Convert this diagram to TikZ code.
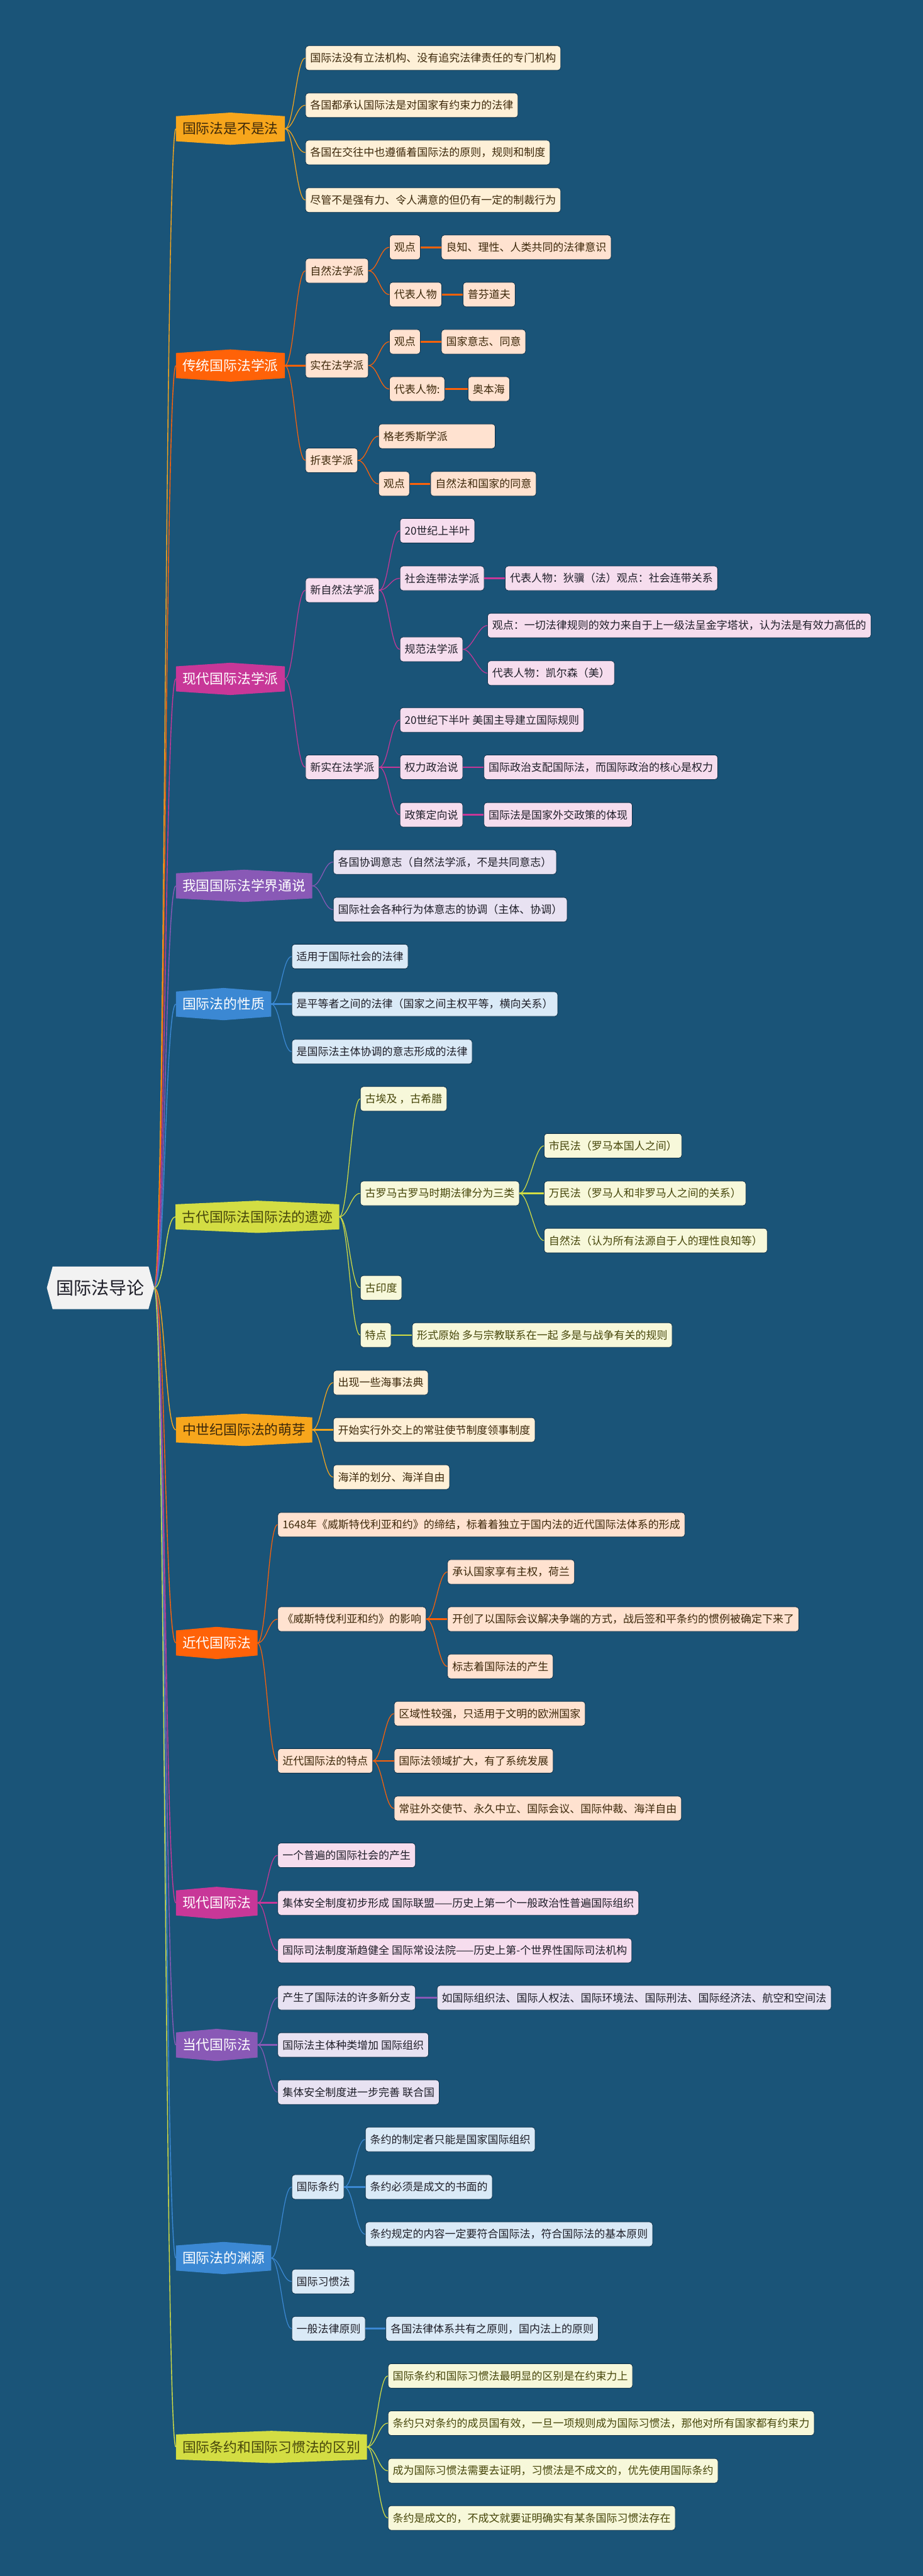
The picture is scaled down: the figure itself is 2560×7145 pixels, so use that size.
\documentclass[tikz,border=0pt]{standalone}
\usepackage{fontspec}
\setmainfont{Noto Sans CJK SC}
\usetikzlibrary{calc}
\definecolor{bgc}{RGB}{26,84,120}
\definecolor{cOr}{RGB}{247,166,28}
\definecolor{cRd}{RGB}{255,98,8}
\definecolor{cMg}{RGB}{200,55,152}
\definecolor{cPu}{RGB}{137,89,182}
\definecolor{cBl}{RGB}{59,136,211}
\definecolor{cYg}{RGB}{211,221,67}
\definecolor{fOr}{RGB}{254,240,215}
\definecolor{fRd}{RGB}{255,226,208}
\definecolor{fMg}{RGB}{246,221,238}
\definecolor{fPu}{RGB}{232,226,242}
\definecolor{fBl}{RGB}{218,234,247}
\definecolor{fYg}{RGB}{247,248,218}
\definecolor{tBr}{RGB}{60,40,10}
\definecolor{tDk}{RGB}{30,30,40}
\definecolor{tOl}{RGB}{70,70,10}
\definecolor{rootF}{RGB}{242,242,242}
\definecolor{edge}{RGB}{15,50,75}
\pgfdeclarelayer{bg}\pgfdeclarelayer{shp}\pgfsetlayers{bg,shp,main}
\tikzset{
 lfbase/.style={anchor=west, rounded corners=0.08cm, minimum height=0.68cm, inner xsep=0.13cm, inner ysep=0pt, font=\fontsize{8.43pt}{10pt}\selectfont, draw=edge, line width=0.4pt},
 lfO/.style={lfbase, fill=fOr, text=tBr},
 lfR/.style={lfbase, fill=fRd, text=tBr},
 lfM/.style={lfbase, fill=fMg, text=tDk},
 lfP/.style={lfbase, fill=fPu, text=tDk},
 lfB/.style={lfbase, fill=fBl, text=tDk},
 lfY/.style={lfbase, fill=fYg, text=tOl},
 mbs/.style={anchor=west, minimum height=0.68cm, inner xsep=0.175cm, inner ysep=0pt, font=\fontsize{10.8pt}{12pt}\selectfont},
}
\newcommand{\mbr}[6]{%
 \node[mbs, text=#5] (#1) at (#2,#3) {#6};
 \begin{pgfonlayer}{shp}
 \fill[#4] (#1.north west) -- ($(#1.north)+(0,-10)$) -- (#1.north east) -- (#1.south east) -- ($(#1.south)+(0,10)$) -- (#1.south west) -- cycle;
 \end{pgfonlayer}}
\newcommand{\cnC}[3]{\draw[#1, line width=0.6pt] (#2.east) .. controls +(25,0) and +(-25,0) .. (#3.west);}
\newcommand{\cnS}[3]{\draw[#1, line width=1.3pt] (#2.east) -- (#3.west);}
\newcommand{\cnR}[2]{\draw[#1, line width=0.7pt] (rootR) .. controls +(30,0) and +(-30,0) .. (#2.west);}
\begin{document}
\begin{tikzpicture}[x=0.01cm, y=-0.01cm]
\useasboundingbox (0,0) rectangle (2560,7145);
\begin{pgfonlayer}{bg}
\fill[bgc] (0,0) rectangle (2560,7145);
\end{pgfonlayer}
% root
\node[font=\fontsize{13.9pt}{16pt}\selectfont, text=tDk, minimum width=2.66cm, minimum height=1.18cm, inner sep=0pt] (root) at (279,3572) {国际法导论};
\begin{pgfonlayer}{shp}
\fill[rootF] (146,3513) -- (412,3513) -- (428,3572) -- (412,3631) -- (146,3631) -- (130,3572) -- cycle;
\end{pgfonlayer}
\coordinate (rootR) at (428,3572);
% ---------- B1
\mbr{b1}{488}{357}{cOr}{tBr}{国际法是不是法}
\node[lfO] (b1a) at (847,161) {国际法没有立法机构、没有追究法律责任的专门机构};
\node[lfO] (b1b) at (847,292) {各国都承认国际法是对国家有约束力的法律};
\node[lfO] (b1c) at (847,423) {各国在交往中也遵循着国际法的原则，规则和制度};
\node[lfO] (b1d) at (847,555) {尽管不是强有力、令人满意的但仍有一定的制裁行为};
\cnR{cOr}{b1}
\cnC{cOr}{b1}{b1a}\cnC{cOr}{b1}{b1b}\cnC{cOr}{b1}{b1c}\cnC{cOr}{b1}{b1d}
% ---------- B2
\mbr{b2}{488}{1014}{cRd}{white}{传统国际法学派}
\node[lfR] (s21) at (847,751) {自然法学派};
\node[lfR] (s211) at (1080,686) {观点};
\node[lfR] (s2111) at (1224,686) {良知、理性、人类共同的法律意识};
\node[lfR] (s212) at (1080,817) {代表人物};
\node[lfR] (s2121) at (1284,817) {普芬道夫};
\node[lfR] (s22) at (847,1014) {实在法学派};
\node[lfR] (s221) at (1080,948) {观点};
\node[lfR] (s2211) at (1224,948) {国家意志、同意};
\node[lfR] (s222) at (1080,1079) {代表人物:};
\node[lfR] (s2221) at (1298,1079) {奥本海};
\node[lfR] (s23) at (847,1277) {折衷学派};
\node[lfR, minimum width=3.23cm, align=left, text width=2.97cm] (s231) at (1050,1210) {格老秀斯学派};
\node[lfR] (s232) at (1050,1342) {观点};
\node[lfR] (s2321) at (1194,1342) {自然法和国家的同意};
\cnR{cRd}{b2}
\cnC{cRd}{b2}{s21}\cnS{cRd}{b2}{s22}\cnC{cRd}{b2}{s23}
\cnC{cRd}{s21}{s211}\cnC{cRd}{s21}{s212}\cnS{cRd}{s211}{s2111}\cnS{cRd}{s212}{s2121}
\cnC{cRd}{s22}{s221}\cnC{cRd}{s22}{s222}\cnS{cRd}{s221}{s2211}\cnS{cRd}{s222}{s2221}
\cnC{cRd}{s23}{s231}\cnC{cRd}{s23}{s232}\cnS{cRd}{s232}{s2321}
% ---------- B3
\mbr{b3}{488}{1883}{cMg}{white}{现代国际法学派}
\node[lfM] (s31) at (847,1637) {新自然法学派};
\node[lfM] (s311) at (1109,1472) {20世纪上半叶};
\node[lfM] (s312) at (1109,1604) {社会连带法学派};
\node[lfM] (s3121) at (1401,1604) {代表人物：狄骥（法）观点：社会连带关系};
\node[lfM] (s313) at (1109,1801) {规范法学派};
\node[lfM] (s3131) at (1352,1735) {观点：一切法律规则的效力来自于上一级法呈金字塔状，认为法是有效力高低的};
\node[lfM] (s3132) at (1352,1867) {代表人物：凯尔森（美）};
\node[lfM] (s32) at (847,2128) {新实在法学派};
\node[lfM] (s321) at (1109,1997) {20世纪下半叶 美国主导建立国际规则};
\node[lfM] (s322) at (1109,2128) {权力政治说};
\node[lfM] (s3221) at (1342,2128) {国际政治支配国际法，而国际政治的核心是权力};
\node[lfM] (s323) at (1109,2260) {政策定向说};
\node[lfM] (s3231) at (1342,2260) {国际法是国家外交政策的体现};
\cnR{cMg}{b3}
\cnC{cMg}{b3}{s31}\cnC{cMg}{b3}{s32}
\cnC{cMg}{s31}{s311}\cnC{cMg}{s31}{s312}\cnC{cMg}{s31}{s313}
\cnS{cMg}{s312}{s3121}\cnC{cMg}{s313}{s3131}\cnC{cMg}{s313}{s3132}
\cnC{cMg}{s32}{s321}\cnS{cMg}{s32}{s322}\cnC{cMg}{s32}{s323}
\cnS{cMg}{s322}{s3221}\cnS{cMg}{s323}{s3231}
% ---------- B4
\mbr{b4}{488}{2457}{cPu}{white}{我国国际法学界通说}
\node[lfP] (s41) at (924,2391) {各国协调意志（自然法学派，不是共同意志）};
\node[lfP] (s42) at (924,2523) {国际社会各种行为体意志的协调（主体、协调）};
\cnR{cPu}{b4}
\cnC{cPu}{b4}{s41}\cnC{cPu}{b4}{s42}
% ---------- B5
\mbr{b5}{488}{2785}{cBl}{white}{国际法的性质}
\node[lfB] (s51) at (809,2653) {适用于国际社会的法律};
\node[lfB] (s52) at (809,2785) {是平等者之间的法律（国家之间主权平等，横向关系）};
\node[lfB] (s53) at (809,2917) {是国际法主体协调的意志形成的法律};
\cnR{cBl}{b5}
\cnC{cBl}{b5}{s51}\cnS{cBl}{b5}{s52}\cnC{cBl}{b5}{s53}
% ---------- B6
\mbr{b6}{487}{3375}{cYg}{tOl}{古代国际法国际法的遗迹}
\node[lfY] (s61) at (999,3048) {古埃及 ，古希腊};
\node[lfY] (s62) at (999,3310) {古罗马古罗马时期法律分为三类};
\node[lfY] (s621) at (1509,3178) {市民法（罗马本国人之间）};
\node[lfY] (s622) at (1509,3310) {万民法（罗马人和非罗马人之间的关系）};
\node[lfY] (s623) at (1509,3441) {自然法（认为所有法源自于人的理性良知等）};
\node[lfY] (s63) at (999,3572) {古印度};
\node[lfY] (s64) at (999,3703) {特点};
\node[lfY] (s641) at (1143,3703) {形式原始 多与宗教联系在一起 多是与战争有关的规则};
\cnR{cYg}{b6}
\cnC{cYg}{b6}{s61}\cnC{cYg}{b6}{s62}\cnC{cYg}{b6}{s63}\cnC{cYg}{b6}{s64}
\cnC{cYg}{s62}{s621}\cnS{cYg}{s62}{s622}\cnC{cYg}{s62}{s623}\cnS{cYg}{s64}{s641}
% ---------- B7
\mbr{b7}{488}{3966}{cOr}{tBr}{中世纪国际法的萌芽}
\node[lfO] (s71) at (924,3835) {出现一些海事法典};
\node[lfO] (s72) at (924,3966) {开始实行外交上的常驻使节制度领事制度};
\node[lfO] (s73) at (924,4097) {海洋的划分、海洋自由};
\cnR{cOr}{b7}
\cnC{cOr}{b7}{s71}\cnS{cOr}{b7}{s72}\cnC{cOr}{b7}{s73}
% ---------- B8
\mbr{b8}{488}{4557}{cRd}{white}{近代国际法}
\node[lfR] (s81) at (770,4229) {1648年《威斯特伐利亚和约》的缔结，标着着独立于国内法的近代国际法体系的形成};
\node[lfR] (s82) at (770,4491) {《威斯特伐利亚和约》的影响};
\node[lfR] (s821) at (1241,4360) {承认国家享有主权，荷兰};
\node[lfR] (s822) at (1241,4491) {开创了以国际会议解决争端的方式，战后签和平条约的惯例被确定下来了};
\node[lfR] (s823) at (1241,4622) {标志着国际法的产生};
\node[lfR] (s83) at (770,4884) {近代国际法的特点};
\node[lfR] (s831) at (1093,4753) {区域性较强，只适用于文明的欧洲国家};
\node[lfR] (s832) at (1093,4884) {国际法领域扩大，有了系统发展};
\node[lfR] (s833) at (1093,5016) {常驻外交使节、永久中立、国际会议、国际仲裁、海洋自由};
\cnR{cRd}{b8}
\cnC{cRd}{b8}{s81}\cnC{cRd}{b8}{s82}\cnC{cRd}{b8}{s83}
\cnC{cRd}{s82}{s821}\cnS{cRd}{s82}{s822}\cnC{cRd}{s82}{s823}
\cnC{cRd}{s83}{s831}\cnS{cRd}{s83}{s832}\cnC{cRd}{s83}{s833}
% ---------- B9
\mbr{b9}{488}{5278}{cMg}{white}{现代国际法}
\node[lfM] (s91) at (770,5146) {一个普遍的国际社会的产生};
\node[lfM] (s92) at (770,5278) {集体安全制度初步形成 国际联盟——历史上第一个一般政治性普遍国际组织};
\node[lfM] (s93) at (770,5410) {国际司法制度渐趋健全 国际常设法院——历史上第-个世界性国际司法机构};
\cnR{cMg}{b9}
\cnC{cMg}{b9}{s91}\cnS{cMg}{b9}{s92}\cnC{cMg}{b9}{s93}
% ---------- B10
\mbr{b10}{488}{5672}{cPu}{white}{当代国际法}
\node[lfP] (s101) at (770,5541) {产生了国际法的许多新分支};
\node[lfP] (s1011) at (1212,5541) {如国际组织法、国际人权法、国际环境法、国际刑法、国际经济法、航空和空间法};
\node[lfP] (s102) at (770,5672) {国际法主体种类增加 国际组织};
\node[lfP] (s103) at (770,5803) {集体安全制度进一步完善 联合国};
\cnR{cPu}{b10}
\cnC{cPu}{b10}{s101}\cnS{cPu}{b10}{s102}\cnC{cPu}{b10}{s103}\cnS{cPu}{s101}{s1011}
% ---------- B11
\mbr{b11}{488}{6263}{cBl}{white}{国际法的渊源}
\node[lfB] (s111) at (809,6066) {国际条约};
\node[lfB] (s1111) at (1013,5934) {条约的制定者只能是国家国际组织};
\node[lfB] (s1112) at (1013,6066) {条约必须是成文的书面的};
\node[lfB] (s1113) at (1013,6197) {条约规定的内容一定要符合国际法，符合国际法的基本原则};
\node[lfB] (s112) at (809,6328) {国际习惯法};
\node[lfB] (s113) at (809,6459) {一般法律原则};
\node[lfB] (s1131) at (1070,6459) {各国法律体系共有之原则，国内法上的原则};
\cnR{cBl}{b11}
\cnC{cBl}{b11}{s111}\cnC{cBl}{b11}{s112}\cnC{cBl}{b11}{s113}
\cnC{cBl}{s111}{s1111}\cnS{cBl}{s111}{s1112}\cnC{cBl}{s111}{s1113}\cnS{cBl}{s113}{s1131}
% ---------- B12
\mbr{b12}{488}{6787}{cYg}{tOl}{国际条约和国际习惯法的区别}
\node[lfY] (s121) at (1076,6590) {国际条约和国际习惯法最明显的区别是在约束力上};
\node[lfY] (s122) at (1076,6721) {条约只对条约的成员国有效，一旦一项规则成为国际习惯法，那他对所有国家都有约束力};
\node[lfY] (s123) at (1076,6853) {成为国际习惯法需要去证明，习惯法是不成文的，优先使用国际条约};
\node[lfY] (s124) at (1076,6984) {条约是成文的，不成文就要证明确实有某条国际习惯法存在};
\cnR{cYg}{b12}
\cnC{cYg}{b12}{s121}\cnC{cYg}{b12}{s122}\cnC{cYg}{b12}{s123}\cnC{cYg}{b12}{s124}
\end{tikzpicture}
\end{document}
